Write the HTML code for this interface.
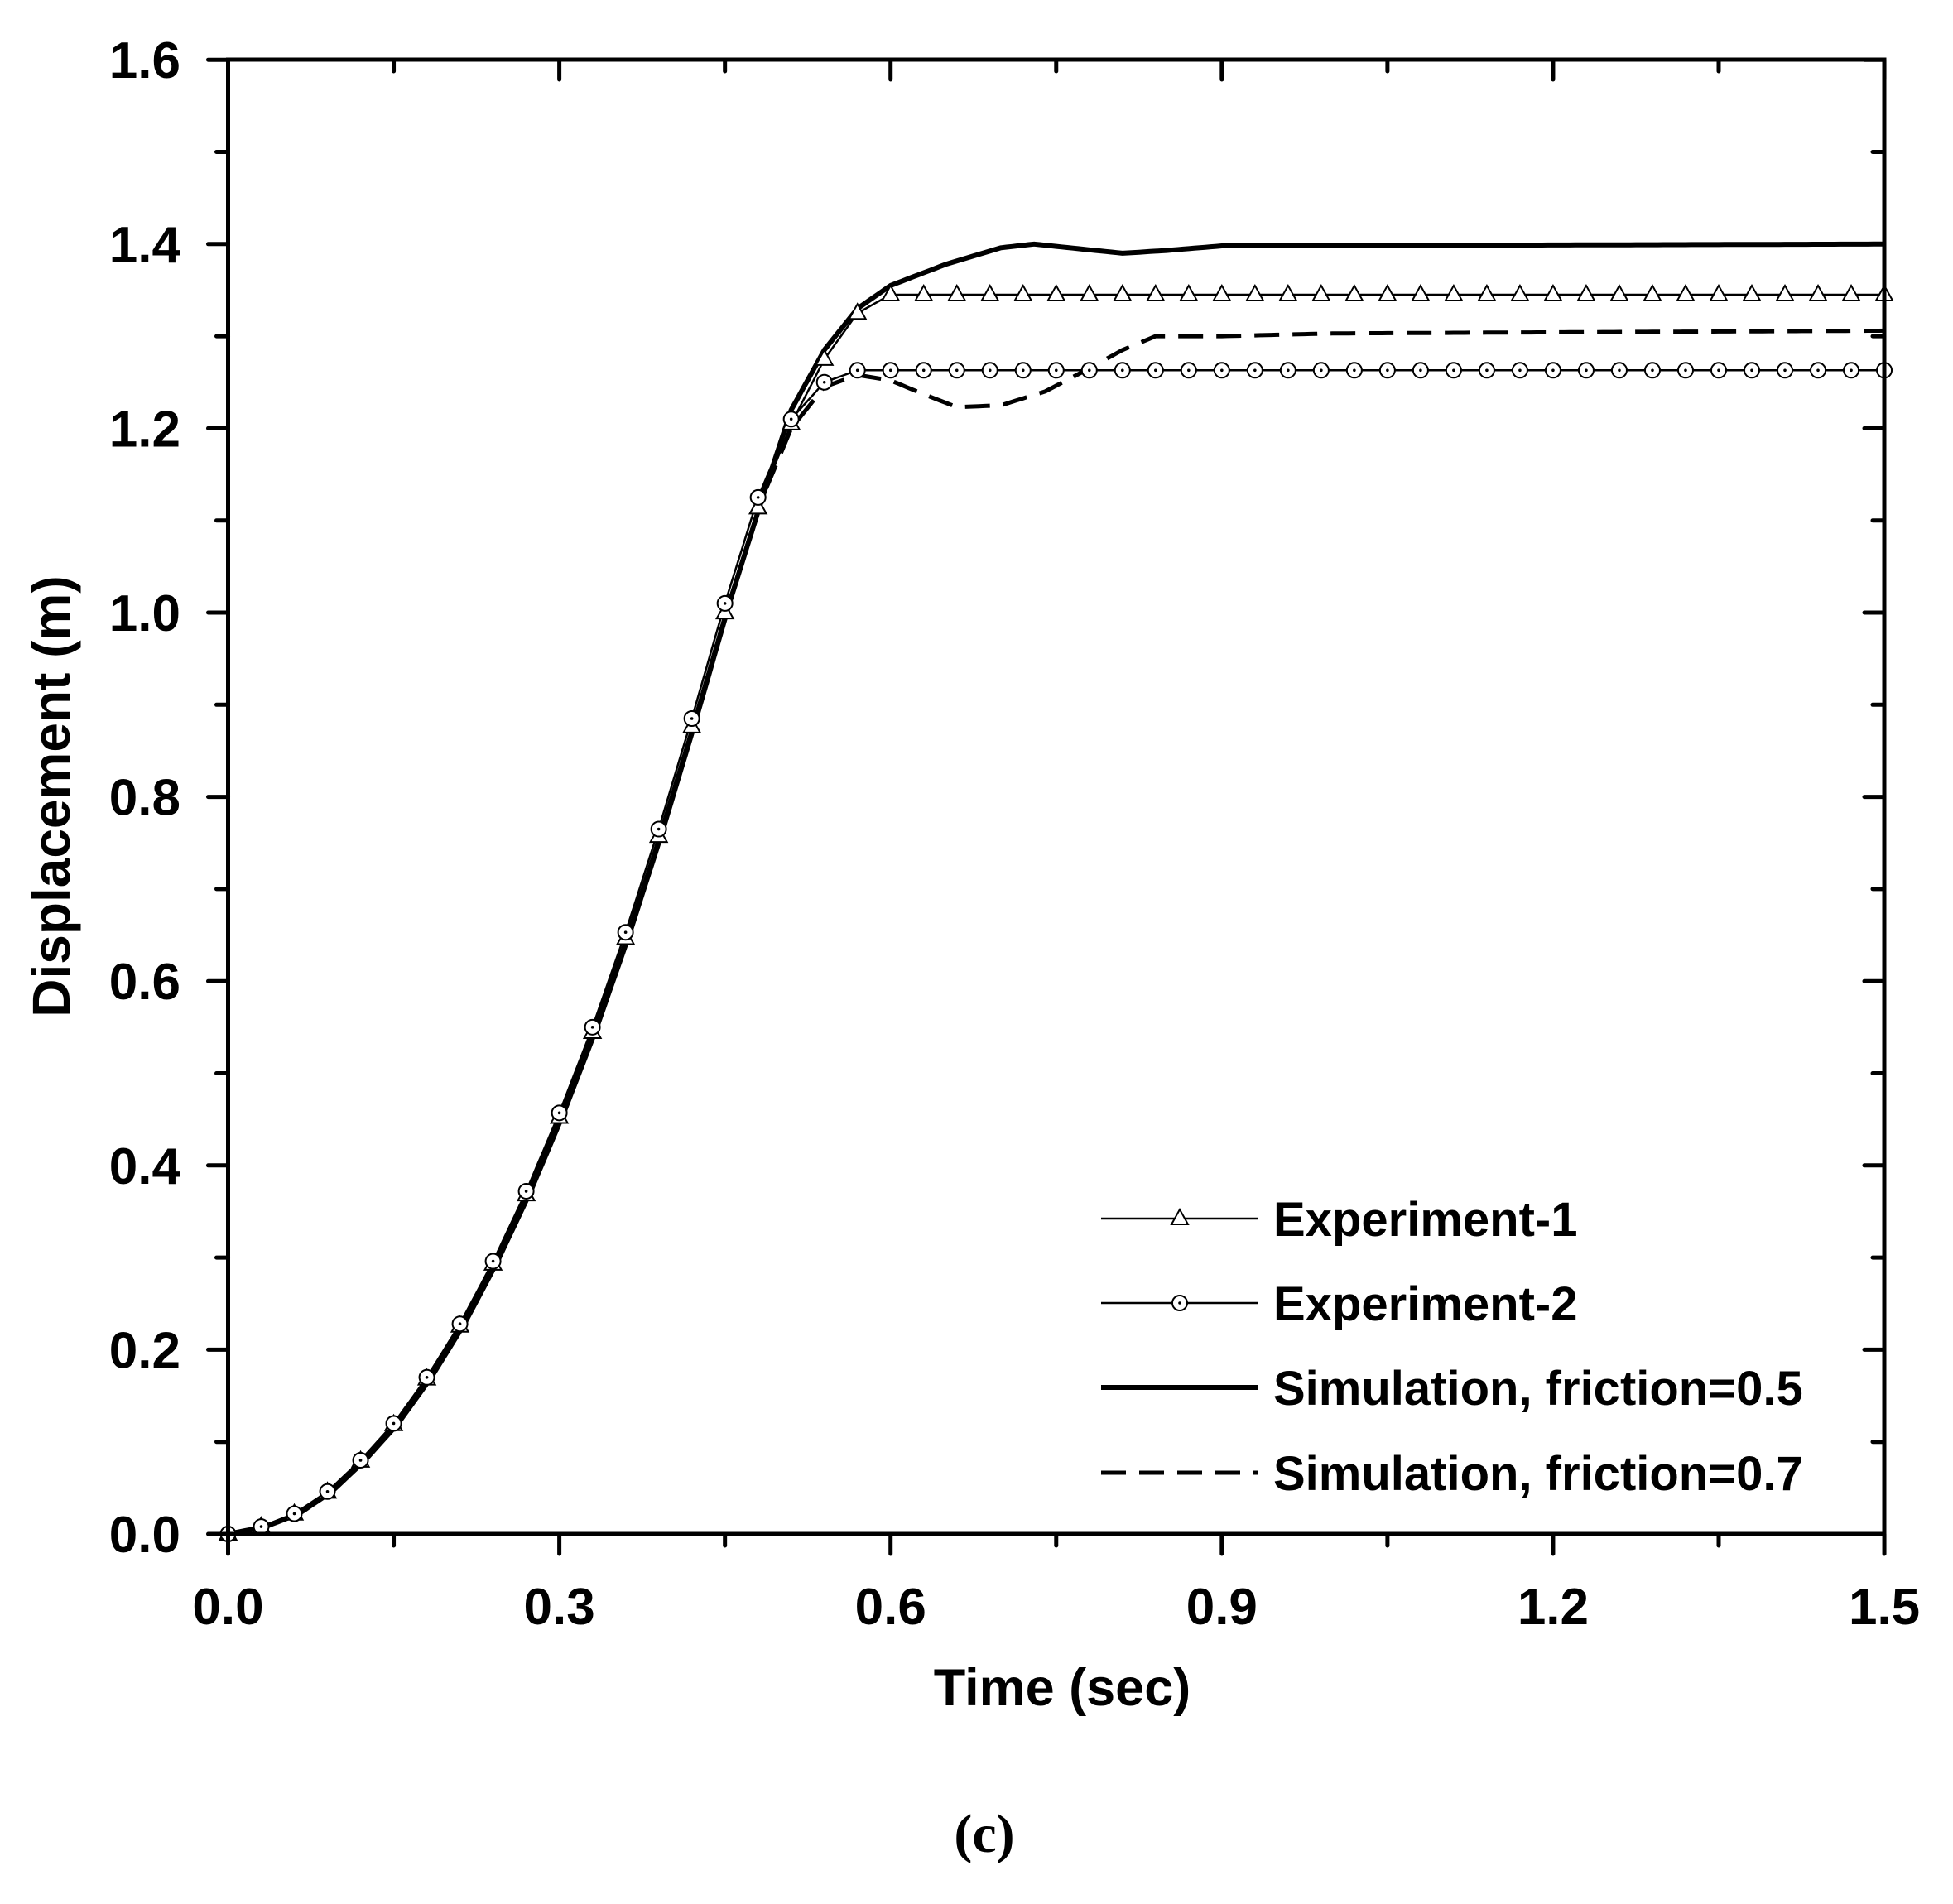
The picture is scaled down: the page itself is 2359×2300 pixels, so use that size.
<!DOCTYPE html>
<html><head><meta charset="utf-8"><style>
html,body{margin:0;padding:0;background:#fff;}
svg{display:block;}
text{font-family:"Liberation Sans",Arial,sans-serif;font-weight:bold;fill:#000;}
</style></head><body>
<svg id="s" width="2359" height="2300" viewBox="0 0 2359 2300" xmlns="http://www.w3.org/2000/svg">
<g id="plot"></g>
<g stroke="#000" stroke-width="5" fill="none" stroke-linecap="round">
<rect x="275.5" y="72" width="2000.5" height="1781"/>
</g>
<g id="ticks" stroke="#000" stroke-width="5" stroke-linecap="round"></g>
<g id="ylab" font-size="62" text-anchor="end"></g>
<g id="xlab" font-size="62" text-anchor="middle"></g>
<text x="1283" y="2060" text-anchor="middle" font-size="63">Time (sec)</text>
<text transform="translate(84,962) rotate(-90)" text-anchor="middle" font-size="64">Displacement (m)</text>
<g font-size="58">
<text x="1538" y="1493">Experiment-1</text>
<text x="1538" y="1595">Experiment-2</text>
<text x="1538" y="1697">Simulation, friction=0.5</text>
<text x="1538" y="1800">Simulation, friction=0.7</text>
</g>
<g id="leg"></g>
<text x="1189" y="2237" text-anchor="middle" font-size="66" style="font-family:'Liberation Serif',serif;font-weight:bold">(c)</text>
</svg>
<script>
var NS="http://www.w3.org/2000/svg";
function X(t){return 275.5+t*1333.7;}
function Y(v){return 1853-v*1113;}
function el(p,tag,a,txt){var e=document.createElementNS(NS,tag);for(var k in a)e.setAttribute(k,a[k]);if(txt)e.textContent=txt;p.appendChild(e);return e;}
var ticks=document.getElementById('ticks');
for(var i=0;i<=10;i++){var t=i*0.15,x=X(t),maj=i%2==0;
 el(ticks,'line',{x1:x,y1:1853,x2:x,y2:1853+(maj?24:14)});
 el(ticks,'line',{x1:x,y1:72,x2:x,y2:72+(maj?24:14)});
 if(maj)el(document.getElementById('xlab'),'text',{x:x,y:1962},t.toFixed(1));}
for(var i=0;i<=16;i++){var y=Y(i*0.1),maj=i%2==0;
 el(ticks,'line',{x1:275.5,y1:y,x2:275.5-(maj?24:14),y2:y});
 el(ticks,'line',{x1:2276,y1:y,x2:2276-(maj?24:14),y2:y});
 if(maj)el(document.getElementById('ylab'),'text',{x:218,y:y+22},(i*0.1).toFixed(1));}
function interp(pts,t){if(t<=pts[0][0])return pts[0][1];for(var i=1;i<pts.length;i++){if(t<=pts[i][0]){var a=pts[i-1],b=pts[i];return a[1]+(b[1]-a[1])*(t-a[0])/(b[0]-a[0]);}}return pts[pts.length-1][1];}
var rise=[[0,0],[0.03,0.008],[0.06,0.022],[0.09,0.046],[0.12,0.08],[0.15,0.12],[0.18,0.17],[0.21,0.228],[0.24,0.296],[0.27,0.372],[0.30,0.457],[0.33,0.55],[0.36,0.653],[0.39,0.765],[0.42,0.885],[0.45,1.01],[0.48,1.125]];
var e1=rise.map(function(p){return [p[0],p[1]*0.99];}).concat([[0.51,1.205],[0.54,1.275],[0.57,1.325],[0.60,1.345],[1.5,1.345]]);
var e2=rise.concat([[0.51,1.21],[0.54,1.25],[0.57,1.263],[1.5,1.263]]);
var s5=rise.map(function(p){return [p[0]+0.004,p[1]];}).concat([[0.51,1.22],[0.54,1.285],[0.57,1.33],[0.60,1.355],[0.65,1.378],[0.70,1.396],[0.73,1.4],[0.77,1.395],[0.81,1.39],[0.85,1.393],[0.9,1.398],[1.5,1.4]]);
s5[0]=[0,0];
var s7=rise.map(function(p){return [p[0]+0.004,p[1]];}).concat([[0.51,1.2],[0.54,1.245],[0.57,1.258],[0.60,1.252],[0.63,1.237],[0.66,1.223],[0.70,1.225],[0.74,1.24],[0.78,1.265],[0.81,1.285],[0.84,1.3],[0.9,1.3],[1.0,1.303],[1.5,1.306]]);
s7[0]=[0,0];
var plot=document.getElementById('plot');
function line(pts,attrs){var d=[];for(var t=0;t<=1.5001;t+=0.005){d.push(X(t).toFixed(1)+','+Y(interp(pts,t)).toFixed(1));}
 var a={points:d.join(' '),fill:'none',stroke:'#000','stroke-linejoin':'round'};for(var k in attrs)a[k]=attrs[k];el(plot,'polyline',a);}
line(e1,{'stroke-width':2.5});
line(e2,{'stroke-width':2.5});
line(s5,{'stroke-width':6});
line(s7,{'stroke-width':5,'stroke-dasharray':'30 16'});
function tri(p,x,y){el(p,'polygon',{points:(x)+','+(y-11)+' '+(x-10)+','+(y+7)+' '+(x+10)+','+(y+7),fill:'#fff',stroke:'#000','stroke-width':2});}
function circ(p,x,y){el(p,'circle',{cx:x,cy:y,r:9,fill:'#fff',stroke:'#000','stroke-width':2});el(p,'circle',{cx:x,cy:y,r:1.8,fill:'#000'});}
for(var i=0;i<=50;i++){var t=i*0.03;tri(plot,X(t),Y(interp(e1,t)));}
for(var i=0;i<=50;i++){var t=i*0.03;circ(plot,X(t),Y(interp(e2,t)));}
var leg=document.getElementById('leg');
el(leg,'line',{x1:1330,y1:1472,x2:1520,y2:1472,stroke:'#000','stroke-width':2.5});tri(leg,1425,1472);
el(leg,'line',{x1:1330,y1:1574,x2:1520,y2:1574,stroke:'#000','stroke-width':2.5});circ(leg,1425,1574);
el(leg,'line',{x1:1330,y1:1676,x2:1520,y2:1676,stroke:'#000','stroke-width':6});
el(leg,'line',{x1:1330,y1:1779,x2:1520,y2:1779,stroke:'#000','stroke-width':5,'stroke-dasharray':'30 16'});
</script>
</body></html>
